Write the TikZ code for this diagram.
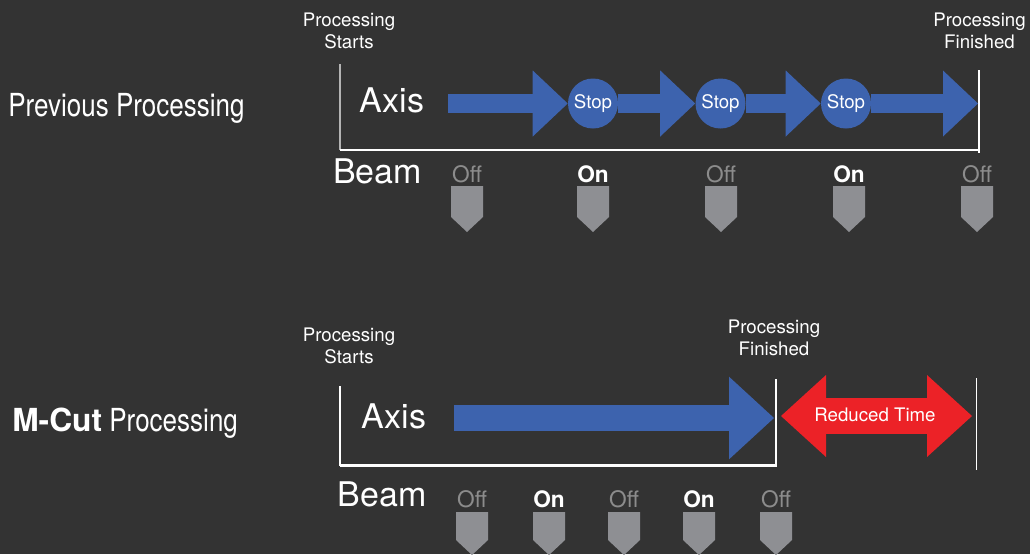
\documentclass[tikz,border=0pt]{standalone}
\usepackage{fontspec}
\setmainfont{TeX Gyre Heros}
\newfontfamily\condfont[FakeStretch=0.82]{TeX Gyre Heros}
\usetikzlibrary{arrows.meta}
\usetikzlibrary{positioning}
\definecolor{bgdark}{HTML}{333333}
\definecolor{axisblue}{HTML}{3D63AE}
\definecolor{cutred}{HTML}{EC2227}
\definecolor{shieldgrey}{HTML}{8E8F93}
\definecolor{offgrey}{HTML}{8C8C8C}
\definecolor{framegrey}{HTML}{B4B4B4}
\tikzstyle{note} = [text=white, font=\fontsize{14}{16.5}\selectfont, align=center, inner sep=0pt]
\tikzstyle{big} = [text=white, font=\fontsize{25.5}{28}\selectfont, inner sep=0pt]
\tikzstyle{title} = [text=white, font=\condfont\fontsize{23.8}{28}\selectfont, inner sep=0pt, anchor=base west]
\tikzstyle{stopdot} = [circle, fill=axisblue, minimum size=37.5pt, inner sep=0pt, text=white, font=\fontsize{14}{16}\selectfont]
\tikzstyle{beamoff} = [text=offgrey, font=\fontsize{17}{20}\selectfont, inner sep=0pt]
\tikzstyle{beamon} = [text=white, font=\fontsize{17}{20}\selectfont\bfseries, inner sep=0pt]
\tikzstyle{axisarrow} = [draw=axisblue, line width=14.25pt, -{Triangle[length=26.25pt,width=49.5pt,line width=0pt]}]
\tikzstyle{longarrow} = [draw=axisblue, line width=20pt, -{Triangle[length=33.75pt,width=62pt,line width=0pt]}]
\tikzstyle{savedarrow} = [draw=cutred, line width=26.5pt, {Triangle[length=33.75pt,width=61.5pt,line width=0pt]}-{Triangle[length=33.75pt,width=61.5pt,line width=0pt]}]

\begin{document}
\begin{tikzpicture}[x=0.75pt, y=-0.75pt]
\path[use as bounding box, fill=bgdark] (0,0) rectangle (1030,554);

% previous processing
\node (prevtitle) [title] at (8,116.7) {Previous Processing};
\node (prevstart) [note] at (349,31) {Processing\\Starts};
\node (prevend) [note] at (979.5,30.5) {Processing\\Finished};
\draw[framegrey, line width=1.5pt] (340,64) -- (340,150);
\draw[white, line width=1.9pt] (340,150) -- (978,150);
\draw[white, line width=1pt] (979,70) -- (979,153);
\node (prevaxis) [big] at (392,100) {Axis};
\node (prevbeam) [big] at (377.5,171) {Beam};
\node (stop1) [stopdot] at (593,103.5) {Stop};
\node (stop2) [stopdot] at (720.5,103.5) {Stop};
\node (stop3) [stopdot] at (846,103.5) {Stop};
\coordinate (prevgo) at (448,103.5);
\coordinate (prevdone) at (978,103.5);
\draw[axisarrow] (prevgo) -- (stop1);
\draw[axisarrow] (stop1) -- (stop2);
\draw[axisarrow] (stop2) -- (stop3);
\draw[axisarrow] (stop3) -- (prevdone);
\foreach \x/\s/\t in {467/beamoff/Off, 593/beamon/On, 721/beamoff/Off, 849/beamon/On, 977/beamoff/Off}{
  \node (pb\x) [\s] at (\x,174) {\t};
  \fill[shieldgrey] (\x-16,186) -- (\x+16,186) -- (\x+16,217) -- (\x,232) -- (\x-16,217) -- cycle;
}

% m-cut processing
\node (cuttitle) [title] at (12,431.7) {{\normalfont\bfseries M-Cut} Processing};
\node (cutstart) [note] at (349,345.5) {Processing\\Starts};
\node (cutend) [note] at (774,338) {Processing\\Finished};
\draw[white, line width=1.5pt] (339.5,386) -- (339.5,465.5);
\draw[white, line width=1.9pt] (339.5,465.5) -- (776.5,465.5);
\draw[white, line width=1.2pt] (775.7,379) -- (775.7,466);
\draw[white, line width=1pt] (976.3,378) -- (976.3,470);
\node (cutaxis) [big] at (394,416.7) {Axis};
\node (cutbeam) [big] at (382,494.7) {Beam};
\coordinate (cutgo) at (454,418);
\coordinate (cutdone) at (774,418);
\draw[longarrow] (cutgo) -- (cutdone);
\coordinate (savedfrom) at (781,416);
\coordinate (savedto) at (972,416);
\draw[savedarrow] (savedfrom) -- (savedto);
\node (saved) [note] at (875,415) {Reduced Time};
\foreach \x/\s/\t in {472/beamoff/Off, 549/beamon/On, 624/beamoff/Off, 699/beamon/On, 776/beamoff/Off}{
  \node (cb\x) [\s] at (\x,499.5) {\t};
  \fill[shieldgrey] (\x-16,512) -- (\x+16,512) -- (\x+16,540) -- (\x,555) -- (\x-16,540) -- cycle;
}
\end{tikzpicture}
\end{document}
